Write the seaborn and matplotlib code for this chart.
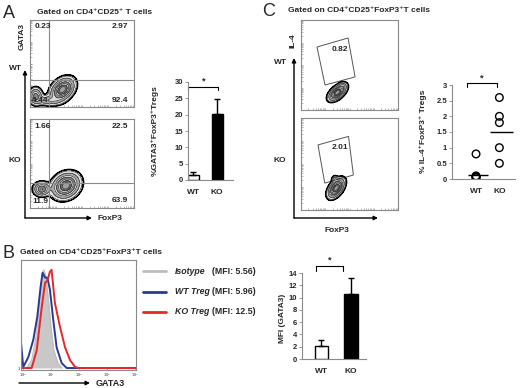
import numpy as np
import pandas as pd
import seaborn as sns
import matplotlib.pyplot as plt
from matplotlib.patches import FancyArrowPatch, Polygon

# ---- data ----
groups = ['WT', 'KO']

# A: quadrant percentages (UL, UR, LL, LR)
gata3_wt_quad = [0.23, 2.97, 4.44, 92.4]
gata3_ko_quad = [1.66, 22.5, 11.9, 63.9]
gata3_pct = [1.6, 20.3]
gata3_pct_err = [0.7, 4.5]

# flow populations (x decade, y decade, sd x, sd y, corr, weight)
a_wt_pops = [(1.25, 0.8, 0.23, 0.27, 0.35, 1.0), (0.22, 0.5, 0.13, 0.2, 0.0, 0.5), (0.7, 0.3, 0.28, 0.13, 0.0, 0.25)]
a_ko_pops = [(1.38, 1.0, 0.27, 0.29, 0.2, 1.0), (0.45, 0.85, 0.16, 0.16, 0.0, 0.6)]
c_wt_pops = [(1.5, 0.78, 0.18, 0.18, 0.55, 1.0), (1.72, 1.08, 0.09, 0.09, 0.0, 0.15)]
c_ko_pops = [(1.45, 0.95, 0.17, 0.21, 0.5, 1.0), (1.4, 1.32, 0.07, 0.09, 0.0, 0.25)]

# C: IL-4 gates and dot plot
il4_gate_pct = [0.82, 2.01]
c_wt_gate = [(0.66, 2.8), (1.94, 3.2), (2.23, 1.47), (0.99, 1.11)]
c_ko_gate = [(0.70, 2.83), (1.96, 3.2), (2.16, 1.52), (0.98, 1.17)]
il4_wt = [0.8, 0.1, 0.07, 0.05, 0.04]
il4_ko = [2.6, 2.0, 1.8, 1.0, 0.5]
il4_mean = [0.12, 1.5]

# B: histograms (x in decades, y in % of max)
iso_x = [0.13, 0.31, 0.49, 0.60, 0.70, 0.75, 0.82, 0.90, 1.0, 1.1, 1.25, 1.4]
iso_y = [0, 8, 36, 69, 98, 100, 93, 72, 42, 18, 5, 0]
wt_x = [-0.07, 0.01, 0.19, 0.37, 0.51, 0.63, 0.70, 0.79, 0.87, 0.96, 1.08, 1.2, 1.38, 1.56, 4.03]
wt_y = [26, 1, 11, 29, 52, 83, 97, 92, 92, 80, 49, 21, 5, 0, 0]
ko_x = [-0.07, 0.31, 0.49, 0.67, 0.79, 0.87, 0.96, 1.02, 1.14, 1.32, 1.5, 1.68, 1.86, 2.0, 4.03]
ko_y = [0, 0, 18, 62, 87, 89, 98, 100, 66, 42, 21, 8, 1, 0, 0]
hist_labels = ['Isotype', 'WT Treg', 'KO Treg']
hist_colors = ['#bdbdbd', '#2b3a8f', '#e8262b']
mfi_legend = [5.56, 5.96, 12.5]
mfi_gata3 = [2.1, 10.6]
mfi_gata3_err = [1.0, 2.6]

sns.set_style('white')
plt.rcParams['font.family'] = ['Liberation Sans', 'DejaVu Sans']

W, H = 520, 388
fig = plt.figure(figsize=(W / 100, H / 100), dpi=100)


def px_axes(x0, y0, x1, y1):
    return fig.add_axes([x0 / W, 1 - y1 / H, (x1 - x0) / W, (y1 - y0) / H])


def ftext(x, y, s, **kw):
    kw.setdefault('fontsize', 6)
    kw.setdefault('fontweight', 'bold')
    fig.text(x / W, 1 - y / H, s, **kw)


def farrow(x0, y0, x1, y1):
    fig.add_artist(FancyArrowPatch((x0 / W, 1 - y0 / H), (x1 / W, 1 - y1 / H), transform=fig.transFigure,
                                   arrowstyle='-|>', mutation_scale=6, lw=1, color='k', shrinkA=0, shrinkB=0))


def fline(xs, ys, color='k', lw=1):
    fig.add_artist(plt.Line2D([x / W for x in xs], [1 - y / H for y in ys], transform=fig.transFigure,
                              color=color, lw=lw))


gx, gy = np.meshgrid(np.linspace(0, 4, 240), np.linspace(0, 4, 240))
minor = [d + np.log10(k) for d in range(4) for k in range(1, 10)]


def flow_plot(ax, pops):
    z = np.zeros_like(gx)
    for cx, cy, sx, sy, rho, w in pops:
        dx = (gx - cx) / sx
        dy = (gy - cy) / sy
        z += w * np.exp(-(dx ** 2 - 2 * rho * dx * dy + dy ** 2) / (2 * (1 - rho ** 2)))
    z = z / z.max()
    levels = [0.04, 0.07, 0.15, 0.28, 0.42, 0.58, 0.74, 0.88, 1.01]
    ax.contourf(gx, gy, z, levels=levels,
                colors=['#111111', '#e6e6e6', '#aaaaaa', '#dadada', '#8a8a8a', '#c8c8c8', '#6a6a6a', '#a0a0a0'])
    ax.contour(gx, gy, z, levels=levels[1:-1], colors='#222222', linewidths=0.45)
    ax.contour(gx, gy, z, levels=levels[:1], colors='k', linewidths=1.0)
    ax.set(xlim=(0, 4), ylim=(0, 4))
    ax.set_xticks(minor)
    ax.set_yticks(minor)
    ax.set_xticklabels([])
    ax.set_yticklabels([])
    ax.tick_params(direction='in', length=1.5, width=0.4, color='#888888', bottom=True, left=True)
    for s in ax.spines.values():
        s.set_color('#8a8a8a')
        s.set_linewidth(0.8)


def quad_labels(ax, vals):
    kw = dict(transform=ax.transAxes, fontsize=6, fontweight='bold')
    ax.text(0.04, 0.92, f'{vals[0]:g}', ha='left', va='center', **kw)
    ax.text(0.94, 0.92, f'{vals[1]:g}', ha='right', va='center', **kw)
    ax.text(0.02, 0.07, f'{vals[2]:g}', ha='left', va='center', **kw)
    ax.text(0.94, 0.08, f'{vals[3]:g}', ha='right', va='center', **kw)


def style_small(ax):
    sns.despine(ax=ax)
    for s in ['left', 'bottom']:
        ax.spines[s].set_color('#8a8a8a')
        ax.spines[s].set_linewidth(0.8)
    ax.tick_params(axis='y', left=True, length=2, width=0.6, color='#8a8a8a', pad=1.5, labelsize=5.5)
    ax.tick_params(axis='x', bottom=False, pad=3, labelsize=6)
    for t in ax.get_xticklabels() + ax.get_yticklabels():
        t.set_fontweight('bold')
    ax.set_xlabel('')


def bracket(ax, x0, x1, y, h):
    ax.plot([x0, x0, x1, x1], [y - h, y, y, y - h], color='k', lw=0.8, clip_on=False)
    ax.text((x0 + x1) / 2, y + h * 0.2, '*', ha='center', va='bottom', fontsize=6.5, fontweight='bold')


def bar_panel(ax, vals, errs):
    df = pd.DataFrame({'group': groups, 'value': vals})
    sns.barplot(data=df, x='group', y='value', hue='group', palette=['white', 'black'],
                edgecolor='black', linewidth=1, width=0.46, legend=False, ax=ax)
    ax.errorbar([0, 1], vals, yerr=[[0, 0], errs], fmt='none', ecolor='k', elinewidth=1, capsize=2.5, capthick=1)


# ---------------- panel A ----------------
ftext(3, 13, 'A', fontsize=13, fontweight='normal', va='center')
ftext(37, 12, 'Gated on CD4⁺CD25⁺ T cells', va='center')

ax = px_axes(30, 20, 134, 107)
flow_plot(ax, a_wt_pops)
ax.axvline(0.73, color='#8a8a8a', lw=0.8)
ax.axhline(1.24, color='#8a8a8a', lw=0.8)
quad_labels(ax, gata3_wt_quad)

ax = px_axes(30, 119, 134, 208)
flow_plot(ax, a_ko_pops)
ax.axvline(0.73, color='#8a8a8a', lw=0.8)
ax.axhline(1.12, color='#8a8a8a', lw=0.8)
quad_labels(ax, gata3_ko_quad)

farrow(25, 218, 25, 70)
farrow(25, 218, 92, 218)
ftext(22, 37, 'GATA3', rotation=90, ha='center', va='center')
ftext(15, 68, 'WT', ha='center', va='center')
ftext(15, 160, 'KO', ha='center', va='center')
ftext(97, 218, 'FoxP3', ha='left', va='center')

ax = px_axes(188, 82, 233, 180)
bar_panel(ax, gata3_pct, gata3_pct_err)
ax.set(ylim=(0, 30), xlim=(-0.23, 1.67), yticks=range(0, 31, 5), ylabel='')
style_small(ax)
bracket(ax, -0.21, 1.04, 28.6, 1.2)
ftext(155, 131, '%GATA3⁺FoxP3⁺Tregs', rotation=90, ha='center', va='center')

# ---------------- panel C ----------------
ftext(262, 12, 'C', fontsize=13, fontweight='normal', va='center')
ftext(288, 11, 'Gated on CD4⁺CD25⁺FoxP3⁺T cells', va='center')

for (y0, y1), pops, gate, pct in zip([(20, 110), (118, 210)], [c_wt_pops, c_ko_pops],
                                     [c_wt_gate, c_ko_gate], il4_gate_pct):
    ax = px_axes(301, y0, 398, y1)
    flow_plot(ax, pops)
    ax.add_patch(Polygon(gate, closed=True, fill=False, ec='#555555', lw=0.7))
    ax.text(1.6, 2.7, f'{pct:g}', ha='center', va='center', fontsize=6, fontweight='bold')

farrow(294, 218, 294, 58)
farrow(294, 218, 378, 218)
ftext(293, 41, 'IL-4', rotation=90, ha='center', va='center')
ftext(280, 62, 'WT', ha='center', va='center')
ftext(280, 160, 'KO', ha='center', va='center')
ftext(337, 230, 'FoxP3', ha='center', va='center')

ax = px_axes(452, 85, 515, 179)
dots = pd.DataFrame({'pos': [0] * len(il4_wt) + [1] * len(il4_ko), 'value': il4_wt + il4_ko})
sns.scatterplot(data=dots, x='pos', y='value', s=30, facecolors='none', edgecolor='k', linewidth=1, ax=ax)
ax.hlines(il4_mean, [-0.35, 0.61], [0.52, 1.57], color='k', lw=1)
ax.set(ylim=(0, 3), xlim=(-1.03, 1.67), yticks=[0, 0.5, 1, 1.5, 2, 2.5, 3], ylabel='')
ax.set_yticklabels(['0', '0.5', '1', '1.5', '2', '2.5', '3'])
ax.set_xticks([0, 1])
ax.set_xticklabels(groups)
style_small(ax)
bracket(ax, -0.39, 0.9, 3.05, 0.11)
ftext(423, 131, '% IL-4⁺FoxP3⁺ Tregs', rotation=90, ha='center', va='center')

# ---------------- panel B ----------------
ftext(3, 254, 'B', fontsize=13, fontweight='normal', va='center')
ftext(20, 252, 'Gated on CD4⁺CD25⁺FoxP3⁺T cells', va='center')

ax = px_axes(21, 260, 136, 370)
ax.fill_between(iso_x, iso_y, color='#c8c8c8', lw=0)
sns.lineplot(x=iso_x, y=iso_y, color='#bdbdbd', lw=0.8, sort=False, estimator=None, ax=ax)
sns.lineplot(x=wt_x, y=wt_y, color=hist_colors[1], lw=1.4, sort=False, estimator=None, ax=ax)
sns.lineplot(x=ko_x, y=ko_y, color=hist_colors[2], lw=1.4, sort=False, estimator=None, ax=ax)
ax.set(xlim=(-0.07, 4.03), ylim=(-2, 110), xticks=range(5), yticks=[0])
ax.set_xticklabels([f'$10^{i}$' for i in range(5)], fontsize=2.4, style='italic')
ax.set_yticklabels(['1'], fontsize=3)
ax.tick_params(direction='in', length=1.5, width=0.4, color='#888888', bottom=True, left=True, pad=0.8)
for s in ax.spines.values():
    s.set_color('#8a8a8a')
    s.set_linewidth(0.8)
farrow(19, 383, 90, 383)
ftext(96, 384, 'GATA3', fontsize=6.5, ha='left', va='center')

for i, (lab, col, m) in enumerate(zip(hist_labels, hist_colors, mfi_legend)):
    y = 271 + 20.5 * i
    fline([143, 166], [y, y], color=col, lw=2)
    ftext(175, y, lab, fontsize=6.3, style='italic', ha='left', va='center')
    ftext(212, y, f'(MFI: {m:g})', fontsize=6.3, ha='left', va='center')

ax = px_axes(302, 273, 366, 359)
bar_panel(ax, mfi_gata3, mfi_gata3_err)
ax.set(ylim=(0, 14), xlim=(-0.66, 1.51), yticks=range(0, 15, 2), ylabel='')
style_small(ax)
bracket(ax, -0.19, 0.73, 15.2, 0.8)
ftext(283, 318, 'MFI (GATA3)', rotation=90, ha='center', va='center')

fig.savefig('out.png', dpi=100)
